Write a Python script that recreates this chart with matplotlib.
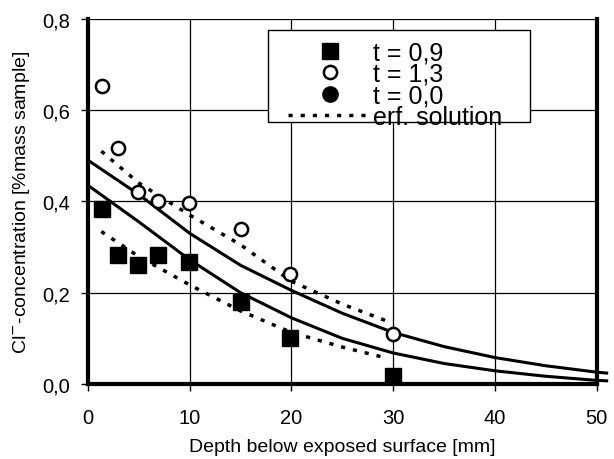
import numpy as np
import matplotlib
matplotlib.use("Agg")
import matplotlib.pyplot as plt
from matplotlib.ticker import FuncFormatter
from matplotlib.lines import Line2D
from matplotlib.patches import Rectangle

plt.rcParams["font.family"] = ["Liberation Sans", "DejaVu Sans"]

# measured points
depth = [1.4, 2.9, 4.9, 6.9, 9.9, 15, 19.9, 30]
cl_t09 = [0.384, 0.283, 0.261, 0.283, 0.268, 0.18, 0.10, 0.018]
cl_t13 = [0.653, 0.518, 0.42, 0.40, 0.396, 0.339, 0.24, 0.11]
depth_t00 = []
cl_t00 = []

# fitted curves (solid)
fit_x = [0, 5, 10, 15, 20, 25, 30, 35, 40, 45, 50, 51]
fit_upper = [0.49, 0.415, 0.33, 0.26, 0.205, 0.155, 0.113, 0.082, 0.058, 0.04, 0.026, 0.024]
fit_lower = [0.435, 0.355, 0.272, 0.20, 0.145, 0.10, 0.068, 0.045, 0.029, 0.017, 0.008, 0.007]

# erf solutions (dotted)
erf_x = [1.3, 5, 10, 15, 20, 25, 29.5]
erf_upper = [0.51, 0.44, 0.37, 0.305, 0.225, 0.175, 0.137]
erf_lower = [0.334, 0.279, 0.217, 0.16, 0.113, 0.081, 0.056]

dots = (0, (1.2, 2.3))

fig = plt.figure(figsize=(6.14, 4.6), dpi=100)
ax = fig.add_axes([0.1435, 0.163, 0.828, 0.794])

ax.plot(fit_x, fit_upper, color="black", lw=2.2, clip_on=False, zorder=3)
ax.plot(fit_x, fit_lower, color="black", lw=2.2, clip_on=False, zorder=3)
ax.plot(erf_x, erf_upper, color="black", lw=2.5, linestyle=dots, zorder=3)
ax.plot(erf_x, erf_lower, color="black", lw=2.5, linestyle=dots, zorder=3)

ax.plot(depth, cl_t09, "s", color="black", ms=11, zorder=4)
ax.plot(depth, cl_t13, "o", mfc="white", mec="black", mew=1.8, ms=9.5, zorder=4)
ax.plot(depth_t00, cl_t00, "o", color="black", ms=10, zorder=4)

ax.set_xlim(0, 50)
ax.set_ylim(0, 0.8)
ax.set_xticks([0, 10, 20, 30, 40, 50])
ax.set_yticks([0, 0.2, 0.4, 0.6, 0.8])
ax.yaxis.set_major_formatter(FuncFormatter(lambda v, p: f"{v:.1f}".replace(".", ",")))
ax.grid(True, color="black", lw=0.9)
ax.set_axisbelow(True)
ax.tick_params(direction="out", length=5, width=1, labelsize=14.5, colors="black")
ax.tick_params(axis="x", pad=12)
ax.tick_params(axis="y", pad=8)

for s in ["left", "right", "bottom"]:
    ax.spines[s].set_linewidth(3)
ax.spines["top"].set_visible(False)

ax.set_xlabel("Depth below exposed surface [mm]", fontsize=14, labelpad=8)
ax.set_ylabel("Cl$^{-}$-concentration [%mass sample]", fontsize=14, labelpad=7)

# legend box, drawn separately so the last entry can run over its edge
ax.add_patch(Rectangle((0.353, 0.717), 0.516, 0.252, transform=ax.transAxes,
                       facecolor="white", edgecolor="black", lw=1.0, zorder=5))

handles = [
    Line2D([], [], marker="s", color="black", ls="none", ms=11),
    Line2D([], [], marker="o", mfc="white", mec="black", mew=1.8, ls="none", ms=9.5),
    Line2D([], [], marker="o", color="black", ls="none", ms=11),
    Line2D([], [], color="black", lw=2.5, ls=dots),
]
labels = ["t = 0,9", "t = 1,3", "t = 0,0", "erf. solution"]
leg = ax.legend(handles, labels, loc="upper left", bbox_to_anchor=(0.393, 0.941),
                fontsize=18, frameon=False, handlelength=3.4, handletextpad=0.0,
                labelspacing=-0.1, borderpad=0, borderaxespad=0)
leg.set_zorder(6)

fig.savefig("out.png", dpi=100)
